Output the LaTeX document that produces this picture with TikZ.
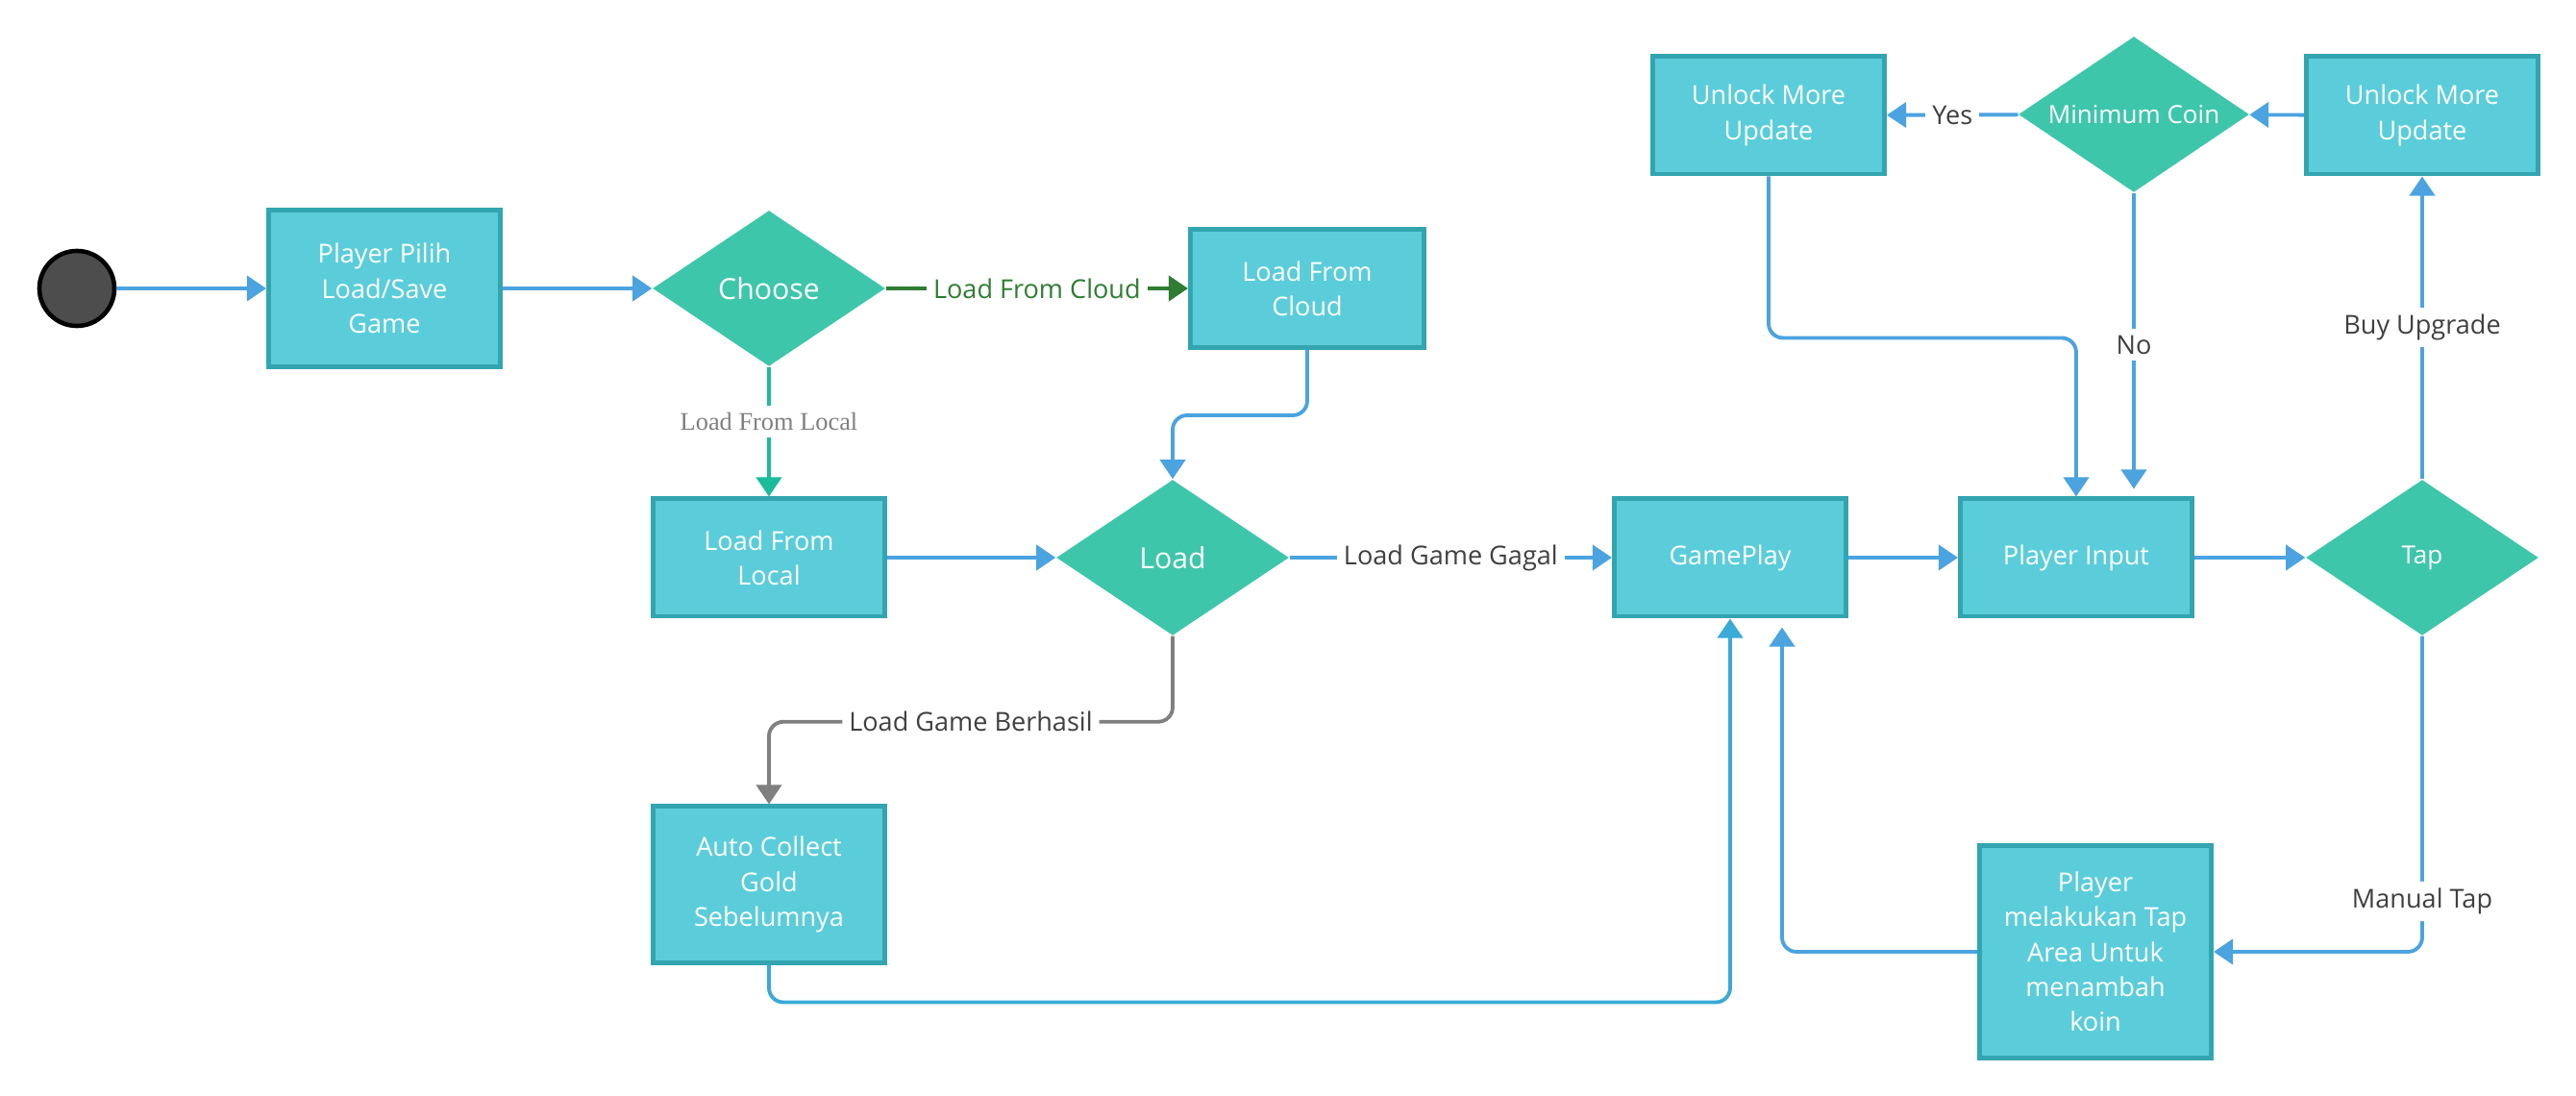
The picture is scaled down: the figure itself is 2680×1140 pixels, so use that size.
\documentclass[tikz,border=0pt]{standalone}
\usepackage{fontspec}
\setmainfont{Open Sans}
\newfontfamily\lblserif{Liberation Serif}
\usetikzlibrary{shapes.geometric,arrows.meta,calc}
\definecolor{boxfill}{HTML}{5BCDDA}
\definecolor{boxline}{HTML}{32A5B0}
\definecolor{decfill}{HTML}{3EC6AA}
\definecolor{flowblue}{HTML}{4BA3E0}
\definecolor{autoblue}{HTML}{3AAAD7}
\definecolor{cloudgreen}{HTML}{2E7D32}
\definecolor{localgreen}{HTML}{1ABC9C}
\definecolor{berhasil}{HTML}{808080}
\definecolor{lbltext}{HTML}{404040}
\definecolor{startfill}{HTML}{4D4D4D}
\begin{document}
\begin{tikzpicture}[x=0.01cm, y=-0.01cm,
  box/.style={rectangle, draw=boxline, line width=1.4pt, fill=boxfill, text=white, align=center,
    minimum width=2.41cm, minimum height=1.22cm, font=\fontsize{7.7}{10.3}\selectfont},
  decision/.style={diamond, fill=decfill, text=white, inner sep=0pt, aspect=1.5,
    minimum width=2.42cm, minimum height=1.62cm, font=\fontsize{7.4}{9}\selectfont},
  bigtext/.style={font=\fontsize{8.6}{10}\selectfont},
  flow/.style={draw=flowblue, line width=1.1pt, -{Triangle[length=0.2cm,width=0.26cm]}},
  lbl/.style={fill=white, text=lbltext, inner sep=2pt, font=\fontsize{7.7}{9}\selectfont}]
  \useasboundingbox (0,0) rectangle (2680,1140);
  \node[circle, draw=black, line width=1.3pt, fill=startfill, minimum size=0.78cm] (start) at (80,300) {};
  \node[box, minimum height=1.63cm] (pilih) at (400,300) {Player Pilih\\Load/Save\\Game};
  \node[decision, bigtext] (choose) at (800,300) {Choose};
  \node[box, minimum width=2.43cm, minimum height=1.23cm] (cloud) at (1360,300) {Load From\\Cloud};
  \node[box] (local) at (800,580) {Load From\\Local};
  \node[decision, bigtext] (load) at (1220,580) {Load};
  \node[box, minimum height=1.62cm] (auto) at (800,920) {Auto Collect\\Gold\\Sebelumnya};
  \node[box] (gameplay) at (1800,580) {GamePlay};
  \node[box] (input) at (2160,580) {Player Input};
  \node[decision] (tap) at (2520,580) {Tap};
  \node[box] (unlockl) at (1840,120) {Unlock More\\Update};
  \node[decision, minimum width=2.4cm] (mincoin) at (2220,119) {Minimum Coin};
  \node[box] (unlockr) at (2520,120) {Unlock More\\Update};
  \node[box, minimum height=2.21cm] (taparea) at (2180,990) {Player\\melakukan Tap\\Area Untuk\\menambah\\koin};

  \draw[flow] (start) -- (pilih);
  \draw[flow] (pilih) -- (choose);
  \draw[flow, draw=cloudgreen] (choose) -- node[lbl, text=cloudgreen] {Load From Cloud} (cloud);
  \draw[flow, draw=localgreen] (choose) -- node[lbl, pos=0.42, text=berhasil, font=\lblserif\fontsize{7.5}{9}\selectfont] {Load From Local} (local);
  \draw[flow, rounded corners=0.15cm] (cloud.south) -- ++(0,68) -| (load.north);
  \draw[flow] (local) -- (load);
  \draw[flow] (load) -- node[lbl] {Load Game Gagal} (gameplay);
  \draw[flow, draw=berhasil, rounded corners=0.15cm] (load.south) -- ++(0,89) -| node[lbl, pos=0.25] {Load Game Berhasil} (auto.north);
  \draw[flow, draw=autoblue, rounded corners=0.15cm] (auto.south) -- ++(0,39) -| (gameplay.south);
  \draw[flow] (gameplay) -- (input);
  \draw[flow] (input) -- (tap);
  \draw[flow] (tap) -- node[lbl] {Buy Upgrade} (unlockr);
  \draw[flow] (unlockr) -- (mincoin);
  \draw[flow] (mincoin) -- node[lbl] {Yes} (unlockl);
  \draw[flow, shorten >=0.08cm] (mincoin.south) -- node[lbl] {No} (mincoin.south |- input.north);
  \draw[flow, rounded corners=0.15cm] (unlockl.south) -- ++(0,168) -| (input.north);
  \draw[flow, rounded corners=0.15cm] (tap.south) |- node[lbl, pos=0.42] {Manual Tap} (taparea.east);
  \draw[flow, rounded corners=0.15cm] (taparea.west) -| ($(gameplay.south)+(54,9)$);
\end{tikzpicture}
\end{document}
